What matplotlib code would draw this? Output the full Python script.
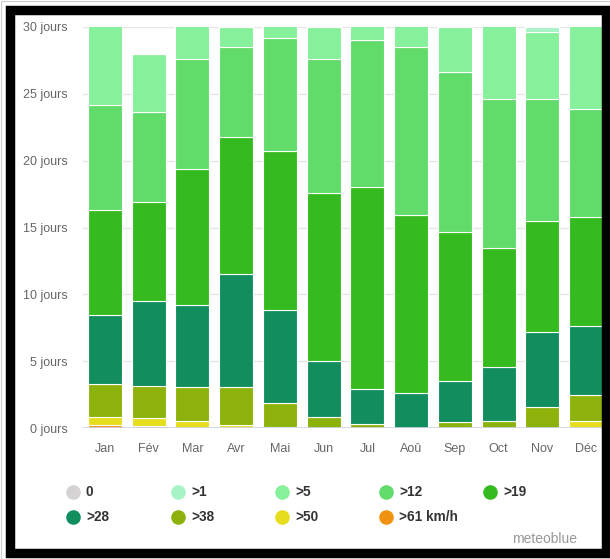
import matplotlib
matplotlib.use("Agg")
import matplotlib.pyplot as plt
from matplotlib import font_manager
from matplotlib.patches import Rectangle
from matplotlib.lines import Line2D
import numpy as np

months = ['Jan', 'Fév', 'Mar', 'Avr', 'Mai', 'Jun', 'Jul', 'Aoû', 'Sep', 'Oct', 'Nov', 'Déc']

# days per month in each wind-speed class (km/h)
calm = [0, 0, 0, 0, 0, 0, 0, 0, 0, 0, 0, 0]
gt1 = [0, 0, 0, 0, 0, 0, 0, 0, 0, 0, 0.4, 0]
gt5 = [6.8, 4.35, 3.4, 1.5, 1.8, 2.4, 2.0, 2.5, 3.4, 6.4, 4.95, 7.1]
gt12 = [7.9, 6.75, 8.2, 6.7, 8.5, 10.0, 11.0, 12.6, 11.95, 11.15, 9.15, 8.1]
gt19 = [7.86, 7.4, 10.2, 10.3, 11.9, 12.6, 15.05, 13.25, 11.1, 8.85, 8.35, 8.15]
gt28 = [5.17, 6.33, 6.13, 8.43, 6.95, 4.15, 2.65, 2.65, 3.13, 4.1, 5.55, 5.15]
gt38 = [2.42, 2.42, 2.57, 2.87, 1.75, 0.85, 0.3, 0, 0.42, 0.5, 1.6, 1.95]
gt50 = [0.65, 0.6, 0.5, 0.2, 0.1, 0, 0, 0, 0, 0, 0, 0.55]
gt61 = [0.2, 0.15, 0, 0, 0, 0, 0, 0, 0, 0, 0, 0]

ytick_values = [0, 5, 10, 15, 20, 25, 30]
ytick_labels = [f"{v} jours" for v in ytick_values]
legend_labels = ['0', '>1', '>5', '>12', '>19', '>28', '>38', '>50', '>61 km/h']

colors = {
    '0': '#d5d2d4', '>1': '#a6f3c6', '>5': '#87f09a', '>12': '#61dc6b',
    '>19': '#35bb20', '>28': '#118d5e', '>38': '#8db20b', '>50': '#e6de1c',
    '>61 km/h': '#f0920f',
}

avail = {f.name for f in font_manager.fontManager.ttflist}
if 'Liberation Sans Narrow' in avail:
    fam, tick_fs, leg_fs, mb_fs = 'Liberation Sans Narrow', 10, 10.5, 12
else:
    fam, tick_fs, leg_fs, mb_fs = 'Liberation Sans', 9, 9.8, 10

W, H = 610, 559
fig = plt.figure(figsize=(W / 100, H / 100), dpi=100)
fig.patch.set_facecolor('white')

ax = fig.add_axes([83 / W, (H - 428) / H, (608 - 83) / W, (428 - 27) / H])
x = np.arange(len(months))
stack = [(gt61, '>61 km/h'), (gt50, '>50'), (gt38, '>38'), (gt28, '>28'),
         (gt19, '>19'), (gt12, '>12'), (gt5, '>5'), (gt1, '>1'), (calm, '0')]
bottom = np.zeros(len(months))
for vals, lab in stack:
    v = np.array(vals, dtype=float)
    ax.bar(x, v, bottom=bottom, width=0.777, color=colors[lab],
           edgecolor='white', linewidth=0.8, zorder=3)
    bottom += v

ax.set_xlim(-0.5, len(months) - 0.5)
ax.set_ylim(0, 30)
ax.set_yticks(ytick_values)
ax.set_yticklabels(ytick_labels)
ax.set_xticks(x)
ax.set_xticklabels(months)
for s in ax.spines.values():
    s.set_visible(False)
ax.grid(axis='y', color='#e6e6e6', linewidth=1, zorder=0)
ax.axhline(0, color='#ccd6eb', linewidth=1.2, zorder=4)
ax.tick_params(axis='both', length=0, colors='#666666')
ax.tick_params(axis='y', pad=11)
ax.tick_params(axis='x', pad=11)
for t in ax.get_xticklabels() + ax.get_yticklabels():
    t.set_fontfamily(fam)
    t.set_fontsize(tick_fs)
    t.set_color('#666666')

# legend
col_x = [73, 178, 282, 386, 490]
row_y = [492, 517]
for i, lab in enumerate(legend_labels):
    r, c = divmod(i, 5)
    mx, my = col_x[c], row_y[r]
    fig.add_artist(Line2D([mx / W], [1 - my / H], transform=fig.transFigure,
                          marker='o', markersize=10.5, color=colors[lab],
                          markeredgewidth=0, linestyle='none'))
    fig.text((mx + 13) / W, 1 - my / H, lab, ha='left', va='center',
             fontsize=leg_fs, fontweight='bold', color='#333333', family=fam)

fig.text(577 / W, 1 - 539 / H, 'meteoblue', ha='right', va='center',
         fontsize=mb_fs, color='#999999', family=fam)

# frame
fig.add_artist(Rectangle((9.5 / W, 1 - 553 / H), (606 - 9.5) / W, (553 - 10) / H,
                         transform=fig.transFigure, fill=False,
                         edgecolor='black', linewidth=6.8))
fig.add_artist(Rectangle((0.5 / W, 0.5 / H), (W - 1) / W, (H - 1) / H,
                         transform=fig.transFigure, fill=False,
                         edgecolor='#cccccc', linewidth=0.8))

fig.savefig('out.png', dpi=100)
